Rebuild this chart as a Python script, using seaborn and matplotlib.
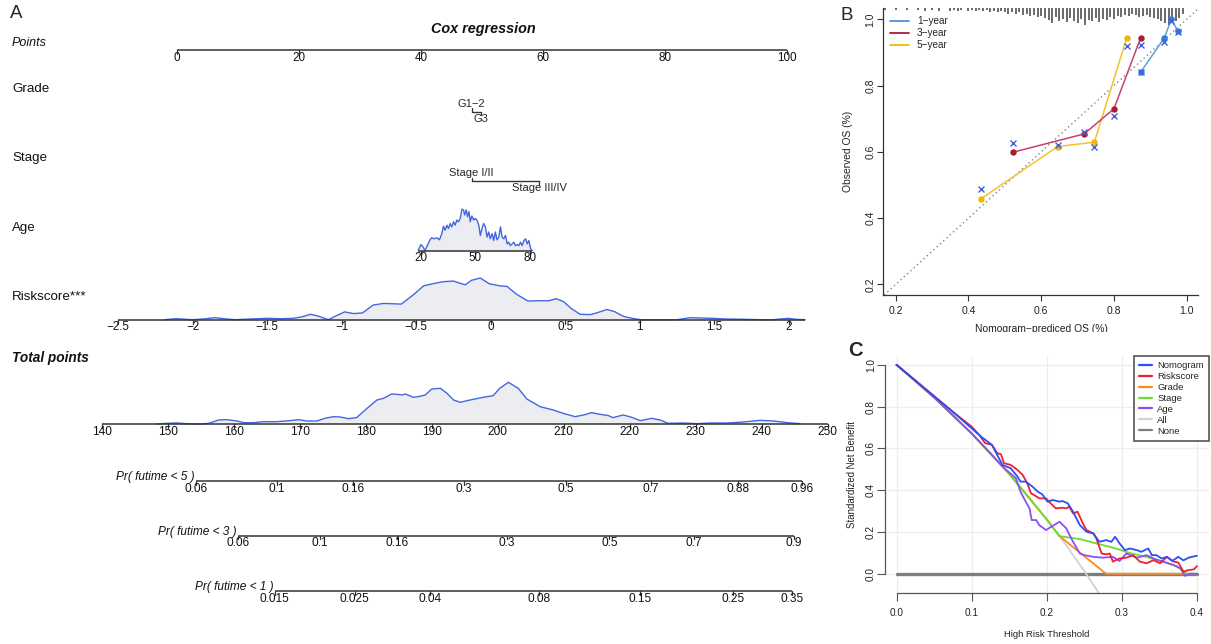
import numpy as np
import pandas as pd
import matplotlib
matplotlib.use("Agg")
import matplotlib.pyplot as plt
import matplotlib.transforms as mtransforms
from matplotlib.lines import Line2D
from matplotlib.patches import Rectangle
import seaborn as sns

sns.set_theme(style="white")
plt.rcParams["font.family"] = ["Liberation Sans", "DejaVu Sans"]
NARROW = ["Liberation Sans Narrow", "Liberation Sans", "DejaVu Sans"]

# ======================= A: Cox regression nomogram =======================
points_ticks = [0, 20, 40, 60, 80, 100]
grade_levels = ["G1−2", "G3"]
grade_points = [48.3, 49.8]
stage_levels = ["Stage I/II", "Stage III/IV"]
stage_points = [48.3, 59.4]
age_ticks = [20, 50, 80]
age_points_at_20_80 = (40.0, 57.8)
risk_ticks = [-2.5, -2, -1.5, -1, -0.5, 0, 0.5, 1, 1.5, 2]
risk_tick_labels = ["−2.5", "−2", "−1.5", "−1", "−0.5", "0", "0.5", "1", "1.5", "2"]
risk_points_at_zero = 51.43
risk_points_per_unit = 24.43
total_ticks = [140, 150, 160, 170, 180, 190, 200, 210, 220, 230, 240, 250]

# distribution of age in the cohort (relative density)
age_grid = [18.5, 20.0, 21.3, 22.2, 23.5, 25.0, 25.9, 27.2, 28.7, 30.2, 31.5, 32.4, 33.3,
            34.3, 35.2, 36.1, 37.0, 38.0, 38.9, 39.8, 40.7, 41.7, 42.6, 43.5, 44.1, 45.0,
            45.7, 46.5, 47.2, 48.1, 49.1, 50.0, 50.9, 51.9, 52.8, 53.7, 54.6, 55.6, 56.5,
            57.4, 58.3, 59.3, 60.2, 61.1, 62.0, 63.0, 63.9, 64.8, 65.7, 66.7, 67.6, 68.5,
            69.4, 70.4, 71.3, 72.2, 73.2, 74.1, 75.0, 75.9, 76.9, 77.8, 78.7, 79.6, 80.6, 81.5]
age_dens = [2, 18, 10, 0, 15, 32, 38, 35, 38, 32, 50, 72, 60, 75, 65, 80, 70, 85, 75, 90,
            85, 95, 122, 120, 105, 120, 100, 115, 85, 102, 90, 95, 90, 75, 45, 65, 80, 70,
            40, 55, 35, 50, 30, 55, 32, 40, 70, 40, 35, 45, 20, 25, 15, 20, 25, 15, 18, 15,
            25, 15, 30, 35, 20, 30, 5, 0]

# distribution of the risk score
risk_grid = [-2.19, -2.11, -2.04, -2.00, -1.93, -1.85, -1.77, -1.71, -1.62, -1.50, -1.41,
             -1.33, -1.27, -1.21, -1.16, -1.09, -1.03, -0.98, -0.92, -0.86, -0.79, -0.72,
             -0.60, -0.52, -0.45, -0.39, -0.32, -0.25, -0.21, -0.17, -0.13, -0.07, -0.01,
             0.06, 0.11, 0.17, 0.25, 0.33, 0.39, 0.44, 0.49, 0.54, 0.60, 0.67, 0.71, 0.78,
             0.83, 0.89, 0.96, 1.01, 1.09, 1.18, 1.25, 1.34, 1.41, 1.49, 1.58, 1.72, 1.81,
             1.90, 1.94, 2.00, 2.05, 2.11]
risk_dens = [0, 3, 1, 0, 2, 6, 2, 0, 2, 4, 3, 4, 8, 16, 11, 0, 13, 23, 18, 20, 43, 48, 46,
             73, 100, 106, 112, 114, 108, 103, 116, 123, 106, 100, 98, 76, 55, 56, 56, 62,
             53, 33, 16, 15, 20, 30, 24, 10, 3, 0, 0, 0, 0, 6, 5, 4, 2, 1, 0, 0, 2, 4, 1, 0]

# distribution of total points
total_grid = [148.3, 149.8, 151.4, 152.9, 154.9, 156.2, 157.7, 158.9, 160.5, 161.5, 163.0,
              164.5, 166.5, 168.5, 169.8, 171.1, 172.6, 173.8, 175.1, 176.1, 177.4, 178.6,
              180.2, 181.7, 182.7, 183.9, 184.7, 185.5, 186.0, 187.2, 188.2, 189.0, 190.0,
              191.3, 192.3, 193.3, 194.3, 195.8, 197.8, 199.3, 200.3, 201.6, 203.1, 204.4,
              206.4, 208.4, 209.9, 211.7, 213.0, 214.2, 215.5, 216.8, 217.4, 219.0, 220.3,
              221.6, 223.3, 224.6, 225.8, 228.1, 230.2, 232.2, 234.7, 237.2, 239.7, 241.8,
              243.8, 245.8]
total_dens = [0, 2, 3, 1, 0, 2, 12, 13, 9, 4, 4, 7, 7, 10, 13, 9, 9, 17, 22, 21, 16, 19, 47,
              72, 77, 90, 89, 87, 90, 80, 83, 87, 105, 107, 92, 72, 65, 72, 80, 85, 107, 125,
              107, 75, 52, 42, 32, 22, 27, 34, 29, 25, 19, 27, 20, 10, 17, 12, 2, 3, 1, 3, 3,
              6, 11, 9, 4, 1]

# event probabilities against total points
pr5_labels = ["0.06", "0.1", "0.16", "0.3", "0.5", "0.7", "0.88", "0.96"]
pr5_total = [154.3, 166.5, 178.1, 194.9, 210.3, 223.2, 236.4, 246.1]
pr3_labels = ["0.06", "0.1", "0.16", "0.3", "0.5", "0.7", "0.9"]
pr3_total = [160.7, 173.1, 184.7, 201.4, 216.9, 229.7, 244.9]
pr1_labels = ["0.015", "0.025", "0.04", "0.08", "0.15", "0.25", "0.35"]
pr1_total = [166.2, 178.3, 189.7, 206.3, 221.5, 235.7, 244.6]

# ======================= B: calibration =======================
cal_1yr_pred = [0.873, 0.938, 0.958, 0.975]
cal_1yr_obs = [0.840, 0.943, 1.000, 0.965]
cal_1yr_corr = [0.840, 0.931, 0.995, 0.963]
cal_3yr_pred = [0.523, 0.718, 0.800, 0.873]
cal_3yr_obs = [0.599, 0.654, 0.730, 0.943]
cal_3yr_corr = [0.628, 0.660, 0.707, 0.921]
cal_5yr_pred = [0.434, 0.645, 0.746, 0.835]
cal_5yr_obs = [0.458, 0.616, 0.629, 0.943]
cal_5yr_corr = [0.487, 0.620, 0.614, 0.918]

rug_pred = [0.17, 0.18, 0.19, 0.20, 0.21, 0.22, 0.23, 0.24, 0.25, 0.26, 0.27, 0.28, 0.29,
            0.30, 0.31, 0.32, 0.33, 0.34, 0.35, 0.36, 0.37, 0.38, 0.39, 0.40, 0.41, 0.42,
            0.43, 0.44, 0.45, 0.46, 0.47, 0.48, 0.49, 0.50, 0.51, 0.52, 0.53, 0.54, 0.55,
            0.56, 0.57, 0.58, 0.59, 0.60, 0.61, 0.62, 0.63, 0.64, 0.65, 0.66, 0.67, 0.68,
            0.69, 0.70, 0.71, 0.72, 0.73, 0.74, 0.75, 0.76, 0.77, 0.78, 0.79, 0.80, 0.81,
            0.82, 0.83, 0.84, 0.85, 0.86, 0.87, 0.88, 0.89, 0.90, 0.91, 0.92, 0.93, 0.94,
            0.95, 0.96, 0.97, 0.98, 0.99]
rug_count = [2, 0, 0, 2, 0, 0, 2, 0, 0, 2, 0, 3, 0, 2, 0, 3, 0, 0, 3, 2, 3, 2, 0, 3, 2, 3,
             2, 3, 2, 4, 3, 4, 3, 4, 5, 4, 5, 4, 6, 5, 7, 6, 8, 7, 9, 11, 14, 8, 12, 10, 13,
             9, 12, 14, 10, 15, 11, 12, 9, 13, 10, 11, 8, 10, 7, 8, 6, 7, 5, 6, 8, 7, 6, 8,
             9, 10, 12, 14, 15, 14, 12, 9, 5]

# ======================= C: decision curves =======================
dca_none_t = [0.0, 0.4]
dca_none_nb = [0.0, 0.0]
dca_all_t = [0.0, 0.025, 0.05, 0.075, 0.1, 0.125, 0.15, 0.175, 0.2, 0.225, 0.25, 0.275]
dca_all_nb = [1.0, 0.924, 0.844, 0.760, 0.671, 0.577, 0.478, 0.372, 0.260, 0.141, 0.013, -0.123]
dca_grade_t = [0.0, 0.05, 0.1, 0.15, 0.2, 0.217, 0.279, 0.385]
dca_grade_nb = [1.0, 0.844, 0.671, 0.478, 0.260, 0.180, 0.0, 0.0]
dca_stage_t = [0.0, 0.05, 0.1, 0.15, 0.2, 0.217, 0.244, 0.266, 0.288, 0.310, 0.333, 0.355,
               0.373, 0.387, 0.400]
dca_stage_nb = [1.0, 0.844, 0.671, 0.478, 0.260, 0.180, 0.166, 0.145, 0.125, 0.100, 0.080,
                0.058, 0.035, 0.0, 0.0]
dca_age_t = [0.0, 0.05, 0.1, 0.125, 0.141, 0.159, 0.165, 0.172, 0.177, 0.180, 0.186, 0.190,
             0.199, 0.206, 0.217, 0.226, 0.235, 0.244, 0.250, 0.262, 0.275, 0.288, 0.297,
             0.306, 0.320, 0.333, 0.344, 0.355, 0.369, 0.378, 0.384, 0.391, 0.400]
dca_age_nb = [1.0, 0.844, 0.672, 0.577, 0.513, 0.457, 0.393, 0.345, 0.313, 0.257, 0.257,
              0.233, 0.209, 0.225, 0.249, 0.217, 0.153, 0.097, 0.089, 0.081, 0.077, 0.081,
              0.061, 0.097, 0.077, 0.089, 0.070, 0.058, 0.042, 0.026, -0.010, 0.0, 0.0]
dca_risk_t = [0.0, 0.05, 0.075, 0.100, 0.110, 0.118, 0.127, 0.134, 0.139, 0.143, 0.152,
              0.161, 0.168, 0.174, 0.179, 0.183, 0.190, 0.199, 0.203, 0.212, 0.221, 0.226,
              0.230, 0.235, 0.241, 0.248, 0.253, 0.262, 0.266, 0.273, 0.279, 0.284, 0.288,
              0.297, 0.306, 0.315, 0.324, 0.333, 0.342, 0.351, 0.360, 0.369, 0.375, 0.382,
              0.389, 0.396, 0.400]
dca_risk_nb = [1.0, 0.85, 0.775, 0.704, 0.665, 0.625, 0.617, 0.577, 0.572, 0.529, 0.521,
               0.497, 0.473, 0.433, 0.385, 0.377, 0.361, 0.361, 0.345, 0.313, 0.316, 0.313,
               0.321, 0.289, 0.297, 0.241, 0.209, 0.193, 0.169, 0.097, 0.093, 0.097, 0.058,
               0.073, 0.077, 0.089, 0.058, 0.050, 0.065, 0.050, 0.081, 0.058, 0.054, 0.010,
               0.018, 0.021, 0.037]
dca_nomo_t = [0.0, 0.05, 0.075, 0.100, 0.114, 0.127, 0.134, 0.141, 0.152, 0.161, 0.165,
              0.172, 0.181, 0.188, 0.194, 0.201, 0.208, 0.217, 0.221, 0.228, 0.235, 0.244,
              0.253, 0.262, 0.270, 0.279, 0.286, 0.291, 0.297, 0.304, 0.311, 0.320, 0.326,
              0.335, 0.340, 0.346, 0.353, 0.360, 0.367, 0.375, 0.382, 0.389, 0.393, 0.400]
dca_nomo_nb = [1.0, 0.85, 0.775, 0.696, 0.652, 0.617, 0.569, 0.521, 0.505, 0.465, 0.441,
               0.441, 0.417, 0.393, 0.380, 0.345, 0.353, 0.345, 0.348, 0.337, 0.297, 0.233,
               0.201, 0.193, 0.153, 0.161, 0.153, 0.177, 0.145, 0.113, 0.121, 0.113, 0.105,
               0.121, 0.089, 0.089, 0.073, 0.081, 0.061, 0.081, 0.064, 0.077, 0.081, 0.086]

dca_models = ["Nomogram", "Riskscore", "Grade", "Stage", "Age", "All", "None"]
dca_colors = {"Nomogram": "#2B4FF2", "Riskscore": "#F2202F", "Grade": "#FF8A1A",
              "Stage": "#6BDD2A", "Age": "#8A50F5", "All": "#C8D5DA", "None": "#7E7E7E"}

# ======================= figure =======================
W, H = 1211, 644
fig = plt.figure(figsize=(W / 100, H / 100), dpi=100)
fig.patch.set_facecolor("white")


def fig_rect(left, top, right, bottom):
    return [left / W, 1 - bottom / H, (right - left) / W, (bottom - top) / H]


# ---------------- A ----------------
axA = fig.add_axes(fig_rect(0, 0, 840, H))
PT0_PX, PX_PER_PT = 177.0, 6.1
axA.set_xlim(-PT0_PX / PX_PER_PT, (840 - PT0_PX) / PX_PER_PT)
axA.set_ylim(H, 0)
axA.axis("off")
PX = 1.0 / PX_PER_PT          # one pixel along x, in point units
left_tf = mtransforms.blended_transform_factory(axA.transAxes, axA.transData)

INK = "#333333"
DENS_LINE = "#4466E0"
DENS_FILL = "#EBEDF0"


def age_to_pts(a):
    a = np.asarray(a, float)
    p0, p1 = age_points_at_20_80
    return p0 + (a - 20) * (p1 - p0) / 60.0


def risk_to_pts(r):
    return risk_points_at_zero + risk_points_per_unit * np.asarray(r, float)


TOT0_X, TOT1_X = -12.34, 106.7   # horizontal extent of the 140-250 total points scale


def total_to_x(t):
    return TOT0_X + (np.asarray(t, float) - 140) * (TOT1_X - TOT0_X) / 110.0


def h_axis(x0, x1, y, ticks, labels, fs=8.4, family=None, tick_len=4, lab_off=7.5):
    axA.plot([x0, x1], [y, y], color=INK, lw=1.1, solid_capstyle="butt")
    for t, lab in zip(ticks, labels):
        axA.plot([t, t], [y, y + tick_len], color=INK, lw=0.9)
        axA.text(t, y + lab_off, lab, ha="center", va="center", fontsize=fs,
                 family=family, color="#111111")


def density(xs, dens, base, peak_px):
    d = np.asarray(dens, float)
    h = d / d.max() * peak_px
    axA.fill_between(xs, base, base - h, color=DENS_FILL, lw=0, zorder=1)
    axA.plot(xs, base - h, color=DENS_LINE, lw=1.0, zorder=2)


# row labels
row_labels = [("Points", 42.5, "italic", "normal", 9.0),
              ("Grade", 89, "normal", "normal", 9.6),
              ("Stage", 158, "normal", "normal", 9.6),
              ("Age", 228, "normal", "normal", 9.6),
              ("Riskscore***", 297, "normal", "normal", 9.6),
              ("Total points", 358, "italic", "bold", 9.8)]
for txt, yy, st, wt, fs in row_labels:
    axA.text(12 / 840, yy, txt, transform=left_tf, ha="left", va="center",
             style=st, weight=wt, fontsize=fs, color="#111111")

axA.text((483 - PT0_PX) * PX, 29, "Cox regression", ha="center", va="center",
         style="italic", weight="bold", fontsize=10.4, color="#111111")
fig.text(10 / W, 1 - 14 / H, "A", fontsize=13.5, ha="left", va="center")

# points scale
h_axis(0, 100, 50, points_ticks, [str(v) for v in points_ticks])

# grade
gy = 111.7
axA.plot(grade_points, [gy, gy], color=INK, lw=1.0)
axA.plot([grade_points[0]] * 2, [gy, gy - 3.5], color=INK, lw=0.9)
axA.plot([grade_points[1]] * 2, [gy, gy + 3.5], color=INK, lw=0.9)
axA.text(grade_points[0], gy - 7.7, grade_levels[0], ha="center", va="center", fontsize=8.0)
axA.text(grade_points[1], gy + 7.6, grade_levels[1], ha="center", va="center", fontsize=8.0)

# stage
sy = 181.0
axA.plot(stage_points, [sy, sy], color=INK, lw=1.0)
axA.plot([stage_points[0]] * 2, [sy, sy - 3.5], color=INK, lw=0.9)
axA.plot([stage_points[1]] * 2, [sy, sy + 3.5], color=INK, lw=0.9)
axA.text(stage_points[0], sy - 8.3, stage_levels[0], ha="center", va="center", fontsize=8.0)
axA.text(stage_points[1], sy + 6.7, stage_levels[1], ha="center", va="center", fontsize=8.0)

# age
ay = 250.7
age_x = age_to_pts(age_grid)
density(age_x, age_dens, ay, 41.5)
h_axis(age_x[0], age_x[-1], ay, age_to_pts(age_ticks), [str(v) for v in age_ticks],
       tick_len=3, lab_off=7.0)

# risk score
ry = 319.7
risk_x = risk_to_pts(risk_grid)
density(risk_x, risk_dens, ry, 41.7)
h_axis(risk_to_pts(risk_ticks[0]), risk_x[-1], ry, risk_to_pts(risk_ticks), risk_tick_labels,
       tick_len=4, lab_off=7.5)

# total points
ty = 424.0
tot_x = total_to_x(total_grid)
density(tot_x, total_dens, ty, 41.7)
h_axis(total_to_x(140), total_to_x(250), ty, total_to_x(total_ticks),
       [str(v) for v in total_ticks], fs=8.6, family=NARROW, lab_off=8.0)

# probability scales
for lab, ylin, labels, totals in [("Pr( futime < 5 )", 481.0, pr5_labels, pr5_total),
                                  ("Pr( futime < 3 )", 535.5, pr3_labels, pr3_total),
                                  ("Pr( futime < 1 )", 591.0, pr1_labels, pr1_total)]:
    xs = total_to_x(totals)
    h_axis(xs[0], xs[-1], ylin, xs, labels, fs=8.6, family=NARROW, tick_len=3.5, lab_off=7.8)
    axA.text(xs[0] - 1.5 * PX, ylin - 3.8, lab, ha="right", va="center", style="italic",
             fontsize=8.6, family=NARROW, color="#111111")

# ---------------- B ----------------
axB = fig.add_axes(fig_rect(883, 8, 1198, 295))
axB.set_xlim(0.165, 1.031)
axB.set_ylim(0.168, 1.034)
axB.set_facecolor("white")
for s in ["top", "right"]:
    axB.spines[s].set_visible(False)
for s in ["left", "bottom"]:
    axB.spines[s].set_color(INK)
    axB.spines[s].set_linewidth(0.9)

# risk distribution rug hanging from the top
top = axB.get_ylim()[1]
px_y = (axB.get_ylim()[1] - axB.get_ylim()[0]) / 287.0
for xp, c in zip(rug_pred, rug_count):
    if c > 0:
        axB.vlines(xp, top - c * 1.1 * px_y, top, color="#4A4A4A", lw=1.15, zorder=1)

axB.axline((0.2, 0.2), (1.0, 1.0), color="#6E8F82", lw=1.0, ls=(0, (1, 2.2)), zorder=1)

series_B = [("5−year", cal_5yr_pred, cal_5yr_obs, cal_5yr_corr, "#F5C12E", "#F2B50A", "#F5B800"),
            ("3−year", cal_3yr_pred, cal_3yr_obs, cal_3yr_corr, "#C8406C", "#A81C33", "#A3203C"),
            ("1−year", cal_1yr_pred, cal_1yr_obs, cal_1yr_corr, "#59A2E8", "#2E7FD8", "#4A90E0")]
for name, xp, yo, yc, lc, pc, _ in series_B:
    sns.lineplot(x=xp, y=yo, ax=axB, color=lc, lw=1.1, sort=False, estimator=None, zorder=2)
    axB.plot(xp, yo, "o", color=pc, ms=3.6, mec=pc, zorder=3)
    axB.plot(xp, yc, "x", color="#4062DA", ms=4.6, mew=1.0, zorder=4)

axB.set_xticks([0.2, 0.4, 0.6, 0.8, 1.0])
axB.set_xticklabels(["0.2", "0.4", "0.6", "0.8", "1.0"])
axB.set_yticks([0.2, 0.4, 0.6, 0.8, 1.0])
axB.set_yticklabels(["0.2", "0.4", "0.6", "0.8", "1.0"])
axB.tick_params(axis="both", bottom=True, left=True, direction="out", length=4, width=0.8,
                colors=INK, labelsize=7.5, labelcolor="#222222")
axB.tick_params(axis="x", pad=3.8)
axB.tick_params(axis="y", pad=1.5)
for lab in axB.get_yticklabels():
    lab.set_rotation(90)
    lab.set_va("center")
axB.set_xlabel("")
axB.set_ylabel("")
handlesB = [Line2D([], [], color=c, lw=1.3) for (_, _, _, _, _, _, c) in series_B[::-1]]
axB.legend(handlesB, ["1−year", "3−year", "5−year"], loc="upper left",
           bbox_to_anchor=(0.022, 0.972), frameon=False, fontsize=7.2, handlelength=1.9,
           handletextpad=0.8, labelspacing=0.22, borderpad=0.0, borderaxespad=0.0)
fig.text(848 / W, 1 - 151.5 / H, "Observed OS (%)", rotation=90, ha="center", va="center",
         fontsize=7.4, color="#222222")
fig.text(1041 / W, 1 - 329 / H, "Nomogram−prediced OS (%)", ha="center", va="center",
         fontsize=7.4, color="#222222")
fig.add_artist(Rectangle((840 / W, 1 - 340 / H), (W - 840) / W, 8.5 / H,
                         transform=fig.transFigure, facecolor="white", edgecolor="none",
                         zorder=10))
fig.text(840 / W, 1 - 16 / H, "B", fontsize=13.5, ha="left", va="center")

# ---------------- C ----------------
axC = fig.add_axes(fig_rect(884.5, 356, 1209, 593))
axC.set_xlim(-0.016, 0.416)
axC.set_ylim(-0.092, 1.042)
axC.set_facecolor("white")
for xg in [0.0, 0.1, 0.2, 0.3, 0.4]:
    axC.axvline(xg, color="#EDEDED", lw=0.9, zorder=0)
for yg in [0.0, 0.2, 0.4, 0.6, 0.8, 1.0]:
    axC.axhline(yg, color="#EDEDED", lw=0.9, zorder=0)

curves = {"None": (dca_none_t, dca_none_nb), "All": (dca_all_t, dca_all_nb),
          "Grade": (dca_grade_t, dca_grade_nb), "Stage": (dca_stage_t, dca_stage_nb),
          "Age": (dca_age_t, dca_age_nb), "Riskscore": (dca_risk_t, dca_risk_nb),
          "Nomogram": (dca_nomo_t, dca_nomo_nb)}
rows = []
for name, (tt, nb) in curves.items():
    for i, (a, b) in enumerate(zip(tt, nb)):
        rows.append({"model": name, "threshold": a, "net_benefit": b, "order": i})
dca_df = pd.DataFrame(rows)
draw_order = ["None", "All", "Grade", "Stage", "Age", "Riskscore", "Nomogram"]
for name in draw_order:
    sub = dca_df[dca_df["model"] == name]
    sns.lineplot(data=sub, x="threshold", y="net_benefit", ax=axC, color=dca_colors[name],
                 lw=2.4 if name == "None" else 1.3, sort=False, estimator=None, zorder=2)

for s in ["top", "right"]:
    axC.spines[s].set_visible(False)
axC.spines["left"].set_bounds(0.0, 1.0)
axC.spines["bottom"].set_bounds(0.0, 0.4)
for s in ["left", "bottom"]:
    axC.spines[s].set_color("#555555")
    axC.spines[s].set_linewidth(0.9)
axC.set_xticks([0.0, 0.1, 0.2, 0.3, 0.4])
axC.set_xticklabels(["0.0", "0.1", "0.2", "0.3", "0.4"])
axC.set_yticks([0.0, 0.2, 0.4, 0.6, 0.8, 1.0])
axC.set_yticklabels(["0.0", "0.2", "0.4", "0.6", "0.8", "1.0"])
axC.tick_params(axis="both", bottom=True, left=True, direction="out", length=5.5, width=0.8,
                colors="#555555", labelsize=7.2, labelcolor="#222222")
axC.tick_params(axis="x", pad=5.0)
axC.tick_params(axis="y", pad=0.6)
for lab in axC.get_yticklabels():
    lab.set_rotation(90)
    lab.set_va("center")
axC.set_xlabel("")
axC.set_ylabel("")
handlesC = [Line2D([], [], color=dca_colors[m], lw=1.6) for m in dca_models]
legC = axC.legend(handlesC, dca_models, loc="upper right", bbox_to_anchor=(1.0, 1.0),
                  fontsize=6.8, handlelength=1.3, handletextpad=0.6, labelspacing=0.2,
                  borderpad=0.55, borderaxespad=0.0, fancybox=False, frameon=True)
legC.get_frame().set_edgecolor("#555555")
legC.get_frame().set_linewidth(1.2)
legC.get_frame().set_facecolor("white")
legC.get_frame().set_alpha(1.0)
fig.text(851.7 / W, 1 - 474.5 / H, "Standardized Net Benefit", rotation=90, ha="center",
         va="center", fontsize=6.9, color="#222222")
fig.text(1046.7 / W, 1 - 634.5 / H, "High Risk Threshold", ha="center", va="center",
         fontsize=6.8, color="#222222")
fig.text(848 / W, 1 - 350 / H, "C", fontsize=14.5, weight="bold", ha="left", va="center")

fig.savefig("out.png", dpi=100, facecolor="white")
